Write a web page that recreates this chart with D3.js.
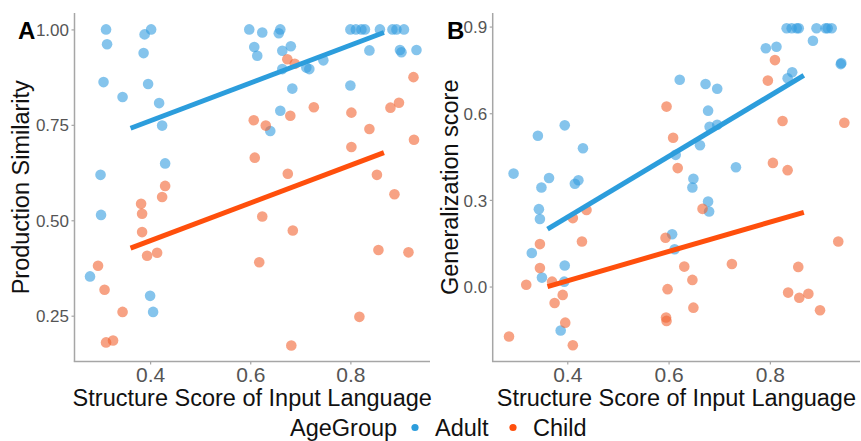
<!DOCTYPE html>
<html>
<head>
<meta charset="utf-8">
<script src="https://cdn.jsdelivr.net/npm/d3@7"></script>
<style>
    body { margin: 0; background: #fff; }
    svg { display: block; font-family: 'Liberation Sans', Arial, sans-serif; }
</style>
</head>
<body>
<div class="chart"></div>
<script>
// [structure score, value] per participant
const adultA = [[0.312,1.00],[0.314,0.961],[0.402,1.00],[0.389,0.987],[0.387,0.938],[0.307,0.862],[0.396,0.857],
    [0.345,0.823],[0.418,0.807],[0.424,0.748],[0.430,0.649],[0.301,0.619],[0.302,0.514],[0.280,0.353],[0.400,0.302],
    [0.406,0.260],[0.598,1.00],[0.624,0.992],[0.660,1.00],[0.657,0.990],[0.608,0.954],[0.614,0.931],[0.664,0.944],
    [0.681,0.956],[0.664,0.896],[0.712,0.900],[0.718,0.896],[0.746,0.919],[0.684,0.845],[0.660,0.787],[0.640,0.734],
    [0.800,1.00],[0.811,1.00],[0.822,1.00],[0.829,1.00],[0.859,1.00],[0.884,1.00],[0.892,1.00],[0.907,1.00],
    [0.838,0.945],[0.899,0.946],[0.902,0.940],[0.932,0.946],[0.800,0.853]];
const childA = [[0.674,0.922],[0.689,0.910],[0.926,0.875],[0.727,0.796],[0.802,0.782],[0.880,0.795],[0.897,0.808],
    [0.607,0.762],[0.631,0.748],[0.680,0.774],[0.838,0.739],[0.927,0.711],[0.802,0.692],[0.609,0.664],[0.675,0.622],
    [0.853,0.619],[0.888,0.568],[0.624,0.510],[0.685,0.473],[0.618,0.390],[0.856,0.422],[0.916,0.416],[0.818,0.247],
    [0.682,0.172],[0.430,0.590],[0.424,0.561],[0.382,0.543],[0.384,0.517],[0.384,0.469],[0.394,0.407],[0.414,0.415],
    [0.296,0.381],[0.309,0.318],[0.345,0.260],[0.312,0.180],[0.326,0.185]];
const adultB = [[0.294,0.391],[0.342,0.522],[0.395,0.558],[0.431,0.479],[0.364,0.376],[0.349,0.343],[0.415,0.356],
    [0.422,0.368],[0.344,0.268],[0.346,0.234],[0.330,0.116],[0.395,0.073],[0.350,0.031],[0.394,0.017],[0.387,-0.152],
    [0.833,0.894],[0.843,0.894],[0.853,0.894],[0.857,0.894],[0.892,0.894],[0.910,0.894],[0.914,0.894],[0.922,0.894],
    [0.885,0.851],[0.792,0.825],[0.813,0.830],[0.941,0.774],[0.940,0.770],[0.844,0.742],[0.835,0.721],[0.622,0.716],
    [0.673,0.701],[0.696,0.685],[0.678,0.609],[0.681,0.553],[0.696,0.560],[0.662,0.489],[0.614,0.456],[0.733,0.413],
    [0.649,0.373],[0.647,0.343],[0.678,0.294],[0.680,0.260],[0.607,0.181],[0.612,0.129]];
const childB = [[0.810,0.784],[0.796,0.713],[0.596,0.623],[0.825,0.573],[0.947,0.567],[0.609,0.515],[0.618,0.410],
    [0.806,0.428],[0.835,0.403],[0.667,0.269],[0.594,0.169],[0.935,0.156],[0.631,0.069],[0.725,0.078],[0.856,0.068],
    [0.647,0.023],[0.598,-0.009],[0.836,-0.021],[0.858,-0.039],[0.876,-0.025],[0.899,-0.082],[0.649,-0.073],
    [0.595,-0.107],[0.596,-0.119],[0.438,0.265],[0.411,0.237],[0.429,0.156],[0.346,0.147],[0.346,0.064],[0.319,0.006],
    [0.370,0.017],[0.391,-0.029],[0.375,-0.057],[0.396,-0.125],[0.285,-0.173],[0.411,-0.203]];

// linear fits (ends of the fitted segment)
const fitX = [0.361, 0.867];
const fitA_adult = [0.741, 0.992];
const fitA_child = [0.427, 0.677];
const fitB_adult = [0.199, 0.731];
const fitB_child = [0.000, 0.257];

const xTicks = [0.4, 0.6, 0.8];
const yTicksA = [0.25, 0.50, 0.75, 1.00];
const yTicksB = [0.0, 0.3, 0.6, 0.9];
const groups = ['Adult', 'Child'];

const width = 861, height = 441;
const fontFamily = "'Liberation Sans', Arial, sans-serif";
const colors = {'Adult': '#349ddf', 'Child': '#f26432'};
const lineColors = {'Adult': '#2c9ddc', 'Child': '#ff4f0c'};
const axisColor = '#a6a6a6';

let svg = d3.select('.chart')
    .append('svg')
    .attr('width', width)
    .attr('height', height);

function draw_panel(opt) {
    let g = svg.append('g');

    let x = d3.scaleLinear().domain(opt.xDomain).range([opt.left, opt.right]);
    let y = d3.scaleLinear().domain(opt.yDomain).range([opt.bottom, opt.top]);

    // x axis
    let axis_x = d3.axisBottom(x).tickValues(xTicks).tickFormat(d3.format('.1f')).tickSizeOuter(0).tickSize(3);
    let gx = g.append('g')
        .attr('transform', `translate(0, ${opt.bottom})`)
        .call(axis_x);
    gx.select('.domain').attr('stroke', axisColor).attr('stroke-width', 1.5)
        .attr('d', `M${opt.left - 0.75},0H${opt.right}`);
    gx.selectAll('.tick line').attr('stroke', axisColor).attr('stroke-width', 1.2);
    gx.selectAll('.tick text')
        .attr('fill', '#555')
        .attr('font-family', fontFamily)
        .attr('font-size', '21px')
        .attr('dy', null)
        .attr('y', 20);

    // y axis
    let axis_y = d3.axisLeft(y).tickValues(opt.yTicks).tickFormat(d3.format(opt.yFormat)).tickSizeOuter(0).tickSize(3);
    let gy = g.append('g')
        .attr('transform', `translate(${opt.left}, 0)`)
        .call(axis_y);
    gy.select('.domain').attr('stroke', axisColor).attr('stroke-width', 1.5)
        .attr('d', `M0,${opt.top}V${opt.bottom}`);
    gy.selectAll('.tick line').attr('stroke', axisColor).attr('stroke-width', 1.2);
    gy.selectAll('.tick text')
        .attr('fill', '#555')
        .attr('font-family', fontFamily)
        .attr('font-size', '17px')
        .attr('x', -5.5)
        .attr('dy', '0.36em');

    // axis titles
    g.append('text')
        .attr('x', (opt.left + opt.right) / 2)
        .attr('y', 405.5)
        .attr('text-anchor', 'middle')
        .attr('font-size', '23.5px')
        .attr('fill', '#111')
        .text('Structure Score of Input Language');
    g.append('text')
        .attr('transform', `translate(${opt.titleX}, ${(opt.top + opt.bottom) / 2}) rotate(-90)`)
        .attr('text-anchor', 'middle')
        .attr('font-size', '23.5px')
        .attr('fill', '#111')
        .text(opt.yTitle);

    // panel letter
    g.append('text')
        .attr('x', opt.letterX)
        .attr('y', 39)
        .attr('font-size', '24px')
        .attr('font-weight', 'bold')
        .attr('fill', '#000')
        .text(opt.letter);

    // points
    groups.forEach(grp => {
        g.append('g')
            .selectAll('circle')
            .data(opt.points[grp])
            .enter().append('circle')
            .attr('cx', d => x(d[0]))
            .attr('cy', d => y(d[1]))
            .attr('r', 5.3)
            .style('fill', colors[grp])
            .style('fill-opacity', 0.6);
    });

    // fitted lines
    groups.forEach(grp => {
        let fy = opt.fits[grp];
        g.append('line')
            .attr('x1', x(fitX[0]))
            .attr('x2', x(fitX[1]))
            .attr('y1', y(fy[0]))
            .attr('y2', y(fy[1]))
            .attr('stroke', lineColors[grp])
            .attr('stroke-width', 5);
    });
}

draw_panel({
    letter: 'A', letterX: 18,
    left: 74.5, right: 430, top: 13, bottom: 361.5,
    xDomain: [0.249, 0.959], yDomain: [0.130, 1.043],
    yTicks: yTicksA, yFormat: '.2f',
    yTitle: 'Production Similarity', titleX: 28.5,
    points: {'Adult': adultA, 'Child': childA},
    fits: {'Adult': fitA_adult, 'Child': fitA_child}
});

draw_panel({
    letter: 'B', letterX: 447,
    left: 492.7, right: 860, top: 13, bottom: 361.5,
    xDomain: [0.2528, 0.9779], yDomain: [-0.2595, 0.947],
    yTicks: yTicksB, yFormat: '.1f',
    yTitle: 'Generalization score', titleX: 458,
    points: {'Adult': adultB, 'Child': childB},
    fits: {'Adult': fitB_adult, 'Child': fitB_child}
});

// legend
let legend = svg.append('g').attr('font-size', '23.5px').attr('fill', '#111');
legend.append('text').attr('x', 290).attr('y', 435.5).text('AgeGroup');
let legendX = d3.scaleOrdinal().domain(groups).range([415, 513]);
groups.forEach(grp => {
    legend.append('circle')
        .attr('cx', legendX(grp))
        .attr('cy', 427.5)
        .attr('r', 3.6)
        .style('fill', lineColors[grp]);
    legend.append('text')
        .attr('x', legendX(grp) + 20)
        .attr('y', 435.5)
        .text(grp);
});
</script>
</body>
</html>
